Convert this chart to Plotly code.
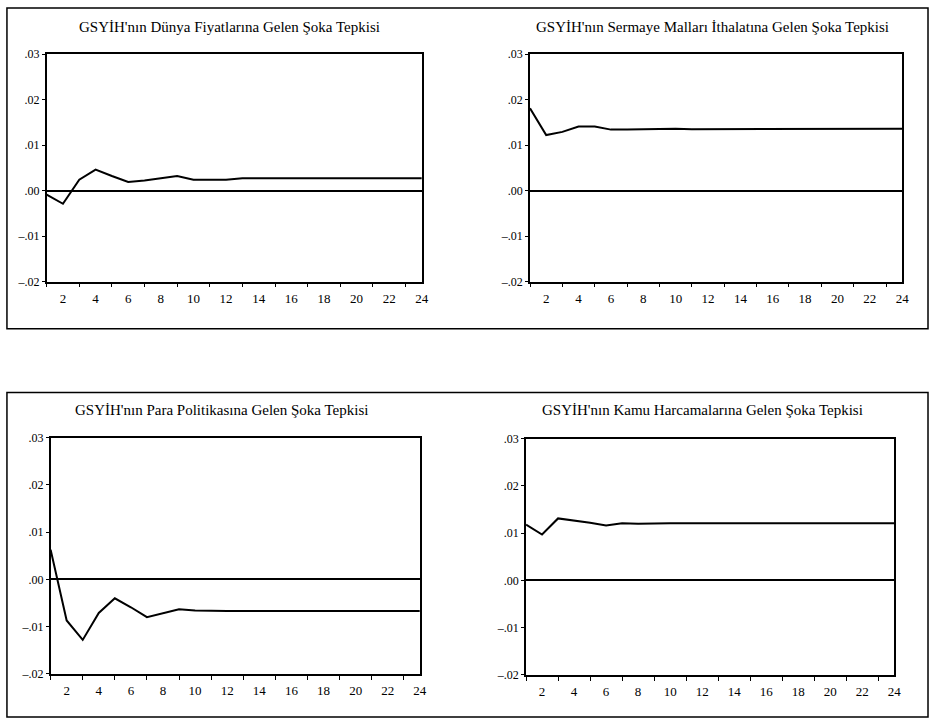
import plotly.graph_objects as go

periods = list(range(1, 25))

titles = [
    "GSYİH'nın Dünya Fiyatlarına Gelen Şoka Tepkisi",
    "GSYİH'nın Sermaye Malları İthalatına Gelen Şoka Tepkisi",
    "GSYİH'nın Para Politikasına Gelen Şoka Tepkisi",
    "GSYİH'nın Kamu Harcamalarına Gelen Şoka Tepkisi",
]

dunya_fiyat = [-0.0009, -0.0029, 0.0024, 0.0046, 0.0032, 0.0019, 0.0022, 0.0027,
               0.0032, 0.0024, 0.0024, 0.0024, 0.0027, 0.0027, 0.0027, 0.0027,
               0.0027, 0.0027, 0.0027, 0.0027, 0.0027, 0.0027, 0.0027, 0.0027]
sermaye_ithalat = [0.0181, 0.0122, 0.0129, 0.0141, 0.0141, 0.0134, 0.0134, 0.0135,
                   0.0136, 0.0136, 0.0135, 0.0135, 0.0136, 0.0136, 0.0136, 0.0136,
                   0.0136, 0.0136, 0.0136, 0.0136, 0.0136, 0.0135, 0.0135, 0.0136]
para_politika = [0.0063, -0.0087, -0.0128, -0.0071, -0.0040, -0.0059, -0.0080, -0.0072,
                 -0.0063, -0.0066, -0.0067, -0.0067, -0.0067, -0.0067, -0.0067, -0.0067,
                 -0.0067, -0.0067, -0.0067, -0.0067, -0.0067, -0.0067, -0.0067, -0.0067]
kamu_harcama = [0.0118, 0.0097, 0.0131, 0.0127, 0.0122, 0.0116, 0.0121, 0.0120,
                0.0121, 0.0121, 0.0121, 0.0121, 0.0121, 0.0121, 0.0121, 0.0121,
                0.0121, 0.0121, 0.0121, 0.0121, 0.0121, 0.0121, 0.0121, 0.0121]

series = [dunya_fiyat, sermaye_ithalat, para_politika, kamu_harcama]

y_tickvals = [0.03, 0.02, 0.01, 0.0, -0.01, -0.02]
y_ticktext = [".03", ".02", ".01", ".00", "–.01", "–.02"]
x_label_vals = [p for p in periods if p % 2 == 0]
x_label_text = [str(p) for p in x_label_vals]
x_tick_marks = [p for p in periods if p % 2 == 1]

W, H = 936, 728
# plot areas in pixels: (left, right, top, bottom)
areas = [(47, 425, 48, 280), (534, 909, 48, 280), (51, 423, 439, 680), (530, 901, 440, 681)]
title_pos = [(231, 20), (718, 20), (223, 411), (708, 411)]

FONT = "Liberation Serif"

fig = go.Figure()
layout = dict(width=W, height=H, margin=dict(l=0, r=0, t=0, b=0),
              paper_bgcolor="white", plot_bgcolor="white", showlegend=False,
              font=dict(family=FONT, color="black", size=12))

annotations = []
for i, (vals, (l, r, t, b)) in enumerate(zip(series, areas)):
    n = i + 1
    xa = "x" if n == 1 else f"x{n}"
    ya = "y" if n == 1 else f"y{n}"
    fig.add_trace(go.Scatter(x=periods, y=vals, mode="lines",
                             line=dict(color="black", width=2),
                             xaxis=xa, yaxis=ya, hoverinfo="skip"))
    layout["xaxis" if n == 1 else f"xaxis{n}"] = dict(
        domain=[l / W, r / W], range=[1, 24], anchor=ya,
        tickvals=x_label_vals, ticktext=x_label_text, ticks="outside", ticklen=4,
        tickwidth=1.2, tickcolor="rgba(0,0,0,0)",
        minor=dict(tickvals=x_tick_marks, ticks="outside", ticklen=4, tickwidth=1.2,
                   tickcolor="black", showgrid=False),
        showgrid=False, zeroline=False,
        showline=True, mirror=True, linecolor="black", linewidth=1.6,
        tickfont=dict(family=FONT, size=13, color="black"))
    layout["yaxis" if n == 1 else f"yaxis{n}"] = dict(
        domain=[1 - b / H, 1 - t / H], range=[-0.02, 0.03], anchor=xa,
        tickvals=y_tickvals, ticktext=y_ticktext, ticks="outside", ticklen=3,
        tickwidth=1.2, tickcolor="black", showgrid=False,
        zeroline=True, zerolinecolor="black", zerolinewidth=1.6,
        showline=True, mirror=True, linecolor="black", linewidth=1.6,
        tickfont=dict(family=FONT, size=12, color="black"))
    tx, ty = title_pos[i]
    annotations.append(dict(text=titles[i], x=tx / W, y=1 - ty / H, xref="paper", yref="paper",
                            showarrow=False, xanchor="center", yanchor="middle",
                            font=dict(family=FONT, size=15, color="black")))

layout["annotations"] = annotations
layout["shapes"] = [
    dict(type="rect", xref="paper", yref="paper", x0=7 / W, x1=935 / W, y0=1 - 328 / H, y1=1 - 1 / H,
         line=dict(color="black", width=1.5)),
    dict(type="rect", xref="paper", yref="paper", x0=7 / W, x1=935 / W, y0=1 - 724 / H, y1=1 - 393 / H,
         line=dict(color="black", width=1.5)),
]
fig.update_layout(**layout)
post = ("document.body.style.margin='0';document.body.style.overflow='hidden';"
        "var gd=document.getElementById('{plot_id}');"
        "gd.style.position='fixed';gd.style.top='0px';gd.style.left='0px';")
fig.write_html("out.html", config={"displayModeBar": False}, post_script=post)
